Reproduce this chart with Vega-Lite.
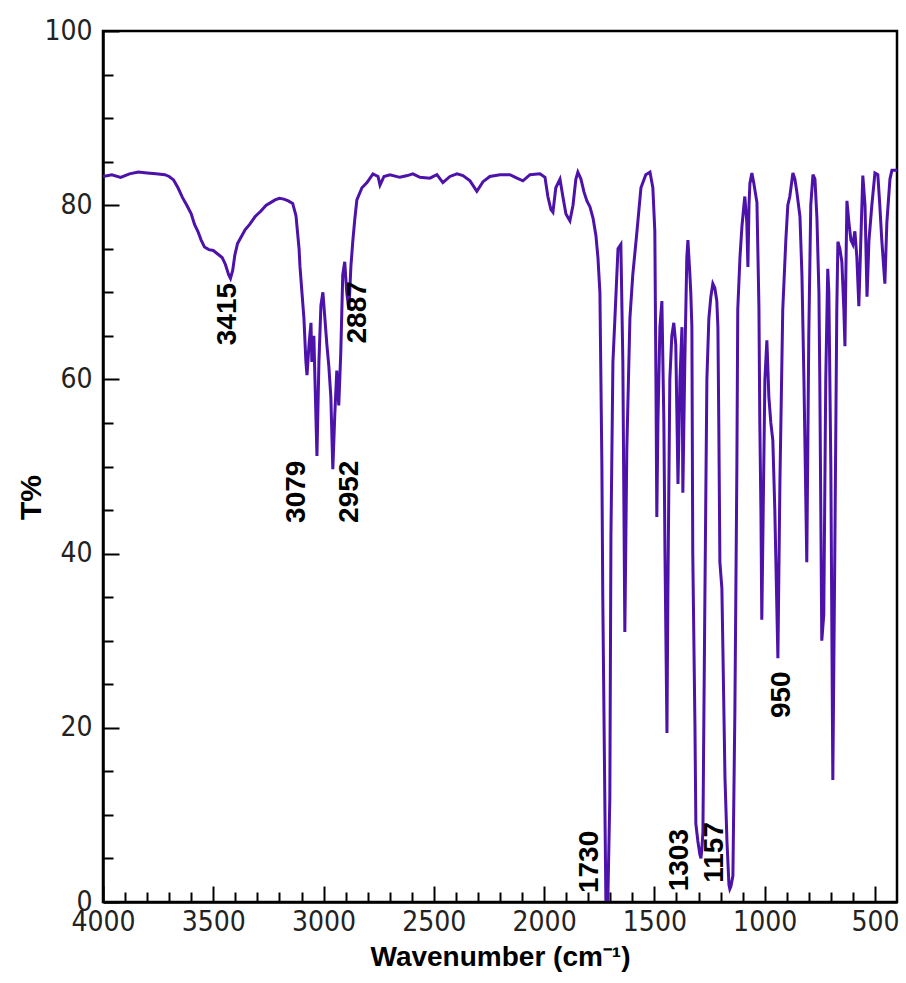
{
  "$schema": "https://vega.github.io/schema/vega-lite/v6.json",
  "width": 794,
  "height": 871,
  "autosize": {"type": "none"},
  "padding": {"left": 103, "top": 31, "right": 9, "bottom": 81},
  "background": "white",
  "config": {
    "view": {"stroke": "black", "strokeWidth": 2.5},
    "axis": {"grid": false, "domainColor": "black", "domainWidth": 2.5, "tickColor": "black", "tickWidth": 2, "zindex": 1}
  },
  "datasets": {
    "spectrum": [
      {"w": 4000, "t": 83.3}, {"w": 3960, "t": 83.5}, {"w": 3920, "t": 83.2}, {"w": 3880, "t": 83.6}, {"w": 3840, "t": 83.8},
      {"w": 3800, "t": 83.7}, {"w": 3760, "t": 83.6}, {"w": 3720, "t": 83.5}, {"w": 3700, "t": 83.3}, {"w": 3680, "t": 82.9},
      {"w": 3660, "t": 82.0}, {"w": 3640, "t": 80.9}, {"w": 3620, "t": 80.0}, {"w": 3600, "t": 79.0}, {"w": 3585, "t": 77.8},
      {"w": 3570, "t": 77.0}, {"w": 3555, "t": 76.0}, {"w": 3540, "t": 75.2}, {"w": 3520, "t": 74.9}, {"w": 3500, "t": 74.8},
      {"w": 3480, "t": 74.4}, {"w": 3460, "t": 74.0}, {"w": 3445, "t": 73.2}, {"w": 3430, "t": 72.0}, {"w": 3422, "t": 71.6},
      {"w": 3412, "t": 72.5}, {"w": 3402, "t": 74.3}, {"w": 3390, "t": 75.6}, {"w": 3375, "t": 76.3}, {"w": 3355, "t": 77.2},
      {"w": 3335, "t": 77.8}, {"w": 3310, "t": 78.7}, {"w": 3285, "t": 79.3}, {"w": 3260, "t": 80.0}, {"w": 3240, "t": 80.3},
      {"w": 3220, "t": 80.6}, {"w": 3200, "t": 80.8}, {"w": 3180, "t": 80.7}, {"w": 3160, "t": 80.5}, {"w": 3140, "t": 80.2},
      {"w": 3125, "t": 78.8}, {"w": 3111, "t": 75.0}, {"w": 3107, "t": 73.0}, {"w": 3098, "t": 70.0}, {"w": 3089, "t": 67.0},
      {"w": 3080, "t": 62.0}, {"w": 3075, "t": 60.5}, {"w": 3066, "t": 64.0}, {"w": 3057, "t": 66.5}, {"w": 3053, "t": 62.0},
      {"w": 3044, "t": 65.0}, {"w": 3039, "t": 60.0}, {"w": 3030, "t": 51.2}, {"w": 3021, "t": 62.0}, {"w": 3012, "t": 68.5},
      {"w": 3003, "t": 70.0}, {"w": 2994, "t": 67.0}, {"w": 2985, "t": 64.0}, {"w": 2976, "t": 61.5}, {"w": 2967, "t": 58.0},
      {"w": 2958, "t": 49.7}, {"w": 2949, "t": 56.0}, {"w": 2940, "t": 61.0}, {"w": 2931, "t": 57.0}, {"w": 2922, "t": 63.0},
      {"w": 2913, "t": 72.0}, {"w": 2904, "t": 73.5}, {"w": 2895, "t": 70.0}, {"w": 2885, "t": 68.0}, {"w": 2876, "t": 73.0},
      {"w": 2867, "t": 76.0}, {"w": 2858, "t": 78.5}, {"w": 2849, "t": 80.6}, {"w": 2826, "t": 82.0}, {"w": 2803, "t": 82.6},
      {"w": 2776, "t": 83.6}, {"w": 2753, "t": 83.3}, {"w": 2744, "t": 82.3}, {"w": 2726, "t": 83.3}, {"w": 2699, "t": 83.5},
      {"w": 2654, "t": 83.2}, {"w": 2620, "t": 83.4}, {"w": 2595, "t": 83.6}, {"w": 2563, "t": 83.2}, {"w": 2518, "t": 83.1},
      {"w": 2486, "t": 83.5}, {"w": 2459, "t": 82.6}, {"w": 2427, "t": 83.3}, {"w": 2395, "t": 83.6}, {"w": 2368, "t": 83.4},
      {"w": 2336, "t": 82.8}, {"w": 2305, "t": 81.6}, {"w": 2277, "t": 82.7}, {"w": 2246, "t": 83.3}, {"w": 2200, "t": 83.5},
      {"w": 2155, "t": 83.5}, {"w": 2123, "t": 83.1}, {"w": 2096, "t": 82.8}, {"w": 2064, "t": 83.5}, {"w": 2019, "t": 83.6},
      {"w": 1996, "t": 83.2}, {"w": 1983, "t": 81.0}, {"w": 1969, "t": 79.5}, {"w": 1960, "t": 79.2}, {"w": 1947, "t": 82.0},
      {"w": 1928, "t": 83.0}, {"w": 1915, "t": 81.0}, {"w": 1901, "t": 79.0}, {"w": 1883, "t": 78.2}, {"w": 1869, "t": 80.0},
      {"w": 1856, "t": 83.0}, {"w": 1847, "t": 83.8}, {"w": 1833, "t": 83.0}, {"w": 1819, "t": 81.5}, {"w": 1806, "t": 80.5},
      {"w": 1792, "t": 79.8}, {"w": 1778, "t": 78.5}, {"w": 1765, "t": 76.5}, {"w": 1756, "t": 74.0}, {"w": 1747, "t": 70.0},
      {"w": 1738, "t": 50.0}, {"w": 1734, "t": 35.0}, {"w": 1724, "t": 10.0}, {"w": 1720, "t": 0.3}, {"w": 1711, "t": 0.3},
      {"w": 1702, "t": 12.0}, {"w": 1697, "t": 42.0}, {"w": 1688, "t": 62.0}, {"w": 1679, "t": 67.0}, {"w": 1665, "t": 75.0},
      {"w": 1652, "t": 75.5}, {"w": 1643, "t": 62.0}, {"w": 1634, "t": 31.0}, {"w": 1625, "t": 52.0}, {"w": 1611, "t": 67.0},
      {"w": 1598, "t": 72.0}, {"w": 1579, "t": 77.0}, {"w": 1561, "t": 82.0}, {"w": 1539, "t": 83.5}, {"w": 1520, "t": 83.8},
      {"w": 1507, "t": 82.0}, {"w": 1498, "t": 77.0}, {"w": 1493, "t": 60.0}, {"w": 1489, "t": 44.2}, {"w": 1484, "t": 55.0},
      {"w": 1475, "t": 66.0}, {"w": 1466, "t": 69.0}, {"w": 1457, "t": 55.0}, {"w": 1452, "t": 40.0}, {"w": 1443, "t": 19.4},
      {"w": 1439, "t": 35.0}, {"w": 1430, "t": 60.0}, {"w": 1421, "t": 65.0}, {"w": 1412, "t": 66.5}, {"w": 1403, "t": 64.0},
      {"w": 1393, "t": 48.0}, {"w": 1384, "t": 60.0}, {"w": 1375, "t": 66.0}, {"w": 1371, "t": 47.0}, {"w": 1362, "t": 62.0},
      {"w": 1353, "t": 74.0}, {"w": 1348, "t": 76.0}, {"w": 1339, "t": 72.0}, {"w": 1335, "t": 70.0}, {"w": 1330, "t": 66.0},
      {"w": 1326, "t": 40.0}, {"w": 1316, "t": 20.0}, {"w": 1312, "t": 9.0}, {"w": 1303, "t": 7.0}, {"w": 1294, "t": 5.5},
      {"w": 1289, "t": 5.0}, {"w": 1285, "t": 6.0}, {"w": 1280, "t": 8.0}, {"w": 1271, "t": 35.0}, {"w": 1262, "t": 60.0},
      {"w": 1253, "t": 67.0}, {"w": 1244, "t": 69.5}, {"w": 1235, "t": 71.0}, {"w": 1226, "t": 70.5}, {"w": 1217, "t": 69.0},
      {"w": 1212, "t": 66.0}, {"w": 1208, "t": 55.0}, {"w": 1203, "t": 39.0}, {"w": 1194, "t": 36.0}, {"w": 1190, "t": 30.0},
      {"w": 1180, "t": 14.3}, {"w": 1171, "t": 7.0}, {"w": 1162, "t": 2.0}, {"w": 1158, "t": 1.5}, {"w": 1153, "t": 1.8},
      {"w": 1144, "t": 3.0}, {"w": 1135, "t": 22.0}, {"w": 1126, "t": 50.0}, {"w": 1122, "t": 68.0}, {"w": 1112, "t": 74.0},
      {"w": 1103, "t": 77.6}, {"w": 1094, "t": 80.0}, {"w": 1090, "t": 81.0}, {"w": 1081, "t": 78.0}, {"w": 1076, "t": 72.9},
      {"w": 1071, "t": 80.0}, {"w": 1067, "t": 82.5}, {"w": 1058, "t": 83.7}, {"w": 1049, "t": 82.5}, {"w": 1035, "t": 80.3},
      {"w": 1026, "t": 68.3}, {"w": 1022, "t": 55.0}, {"w": 1017, "t": 45.0}, {"w": 1013, "t": 32.4}, {"w": 999, "t": 60.0},
      {"w": 990, "t": 64.5}, {"w": 981, "t": 58.0}, {"w": 972, "t": 55.0}, {"w": 963, "t": 53.0}, {"w": 954, "t": 45.0},
      {"w": 940, "t": 28.0}, {"w": 931, "t": 48.0}, {"w": 918, "t": 68.0}, {"w": 904, "t": 76.0}, {"w": 895, "t": 80.0},
      {"w": 886, "t": 81.0}, {"w": 872, "t": 83.7}, {"w": 863, "t": 83.0}, {"w": 854, "t": 81.5}, {"w": 840, "t": 78.7},
      {"w": 831, "t": 72.0}, {"w": 822, "t": 60.0}, {"w": 809, "t": 39.0}, {"w": 800, "t": 65.0}, {"w": 791, "t": 80.0},
      {"w": 781, "t": 83.5}, {"w": 772, "t": 83.0}, {"w": 763, "t": 78.5}, {"w": 754, "t": 70.0}, {"w": 750, "t": 60.0},
      {"w": 741, "t": 30.0}, {"w": 732, "t": 33.0}, {"w": 723, "t": 60.0}, {"w": 714, "t": 72.7}, {"w": 709, "t": 70.0},
      {"w": 700, "t": 50.0}, {"w": 691, "t": 14.0}, {"w": 682, "t": 40.0}, {"w": 673, "t": 68.0}, {"w": 668, "t": 75.8},
      {"w": 659, "t": 75.0}, {"w": 650, "t": 73.5}, {"w": 641, "t": 68.0}, {"w": 636, "t": 63.8}, {"w": 632, "t": 72.0},
      {"w": 627, "t": 80.5}, {"w": 618, "t": 78.0}, {"w": 609, "t": 76.0}, {"w": 600, "t": 75.5}, {"w": 591, "t": 77.0},
      {"w": 582, "t": 74.0}, {"w": 573, "t": 68.4}, {"w": 564, "t": 76.0}, {"w": 555, "t": 83.4}, {"w": 545, "t": 80.0},
      {"w": 536, "t": 69.5}, {"w": 527, "t": 76.0}, {"w": 514, "t": 80.0}, {"w": 500, "t": 83.7}, {"w": 487, "t": 83.5},
      {"w": 478, "t": 80.0}, {"w": 469, "t": 76.0}, {"w": 455, "t": 71.0}, {"w": 446, "t": 78.0}, {"w": 432, "t": 83.0},
      {"w": 423, "t": 84.0}, {"w": 400, "t": 84.0}
    ],
    "peaks": [
      {"w": 3433, "t": 67.5, "label": "3415"},
      {"w": 2844, "t": 67.7, "label": "2887"},
      {"w": 3121, "t": 47.1, "label": "3079"},
      {"w": 2880, "t": 47.1, "label": "2952"},
      {"w": 1792, "t": 4.6, "label": "1730"},
      {"w": 1384, "t": 4.8, "label": "1303"},
      {"w": 1226, "t": 5.7, "label": "1157"},
      {"w": 922, "t": 23.8, "label": "950"}
    ]
  },
  "layer": [
    {
      "data": {"name": "spectrum"},
      "mark": {"type": "line", "color": "#4c12aa", "strokeWidth": 3, "clip": true},
      "encoding": {
        "x": {
          "field": "w", "type": "quantitative",
          "scale": {"domain": [400, 4000], "reverse": true, "nice": false, "zero": false},
          "axis": {
            "orient": "bottom",
            "values": [4000, 3900, 3800, 3700, 3600, 3500, 3400, 3300, 3200, 3100, 3000, 2900, 2800, 2700, 2600, 2500, 2400, 2300, 2200, 2100, 2000, 1900, 1800, 1700, 1600, 1500, 1400, 1300, 1200, 1100, 1000, 900, 800, 700, 600, 500],
            "labelExpr": "datum.value % 500 === 0 ? format(datum.value, 'd') : ''",
            "ticks": true,
            "tickSize": {"condition": {"test": "datum.value % 500 === 0", "value": -16}, "value": -10},
            "labelPadding": 22,
            "labelFont": "'Liberation Sans Narrow', 'DejaVu Sans Condensed', 'Liberation Sans', sans-serif", "labelFontSize": 28, "labelColor": "#222",
            "labelFlush": false, "labelOverlap": false, "labelBound": false, "labelSeparation": 0,
            "title": "Wavenumber (cm⁻¹)", "titleFont": "Liberation Sans", "titleFontWeight": "bold",
            "titleFontSize": 28, "titleColor": "black", "titleY": 55, "titleBaseline": "middle"
          }
        },
        "y": {
          "field": "t", "type": "quantitative",
          "scale": {"domain": [0, 100], "nice": false, "zero": false},
          "axis": {
            "orient": "left",
            "values": [0, 5, 10, 15, 20, 25, 30, 35, 40, 45, 50, 55, 60, 65, 70, 75, 80, 85, 90, 95, 100],
            "labelExpr": "datum.value % 20 === 0 ? format(datum.value, 'd') : ''",
            "ticks": true,
            "tickSize": {"condition": {"test": "datum.value % 20 === 0", "value": -16}, "value": -10},
            "labelPadding": 27,
            "labelFont": "'Liberation Sans Narrow', 'DejaVu Sans Condensed', 'Liberation Sans', sans-serif", "labelFontSize": 28, "labelColor": "#222",
            "labelFlush": false, "labelOverlap": false, "labelBound": false, "labelSeparation": 0,
            "title": "T%", "titleFont": "Liberation Sans", "titleFontWeight": "bold",
            "titleFontSize": 30, "titleColor": "black", "titleX": -72, "titleY": 466, "titleBaseline": "middle", "titleAngle": 270
          }
        }
      }
    },
    {
      "data": {"name": "peaks"},
      "mark": {"type": "text", "angle": 270, "font": "Liberation Sans", "fontWeight": "bold", "fontSize": 28, "align": "center", "baseline": "middle", "color": "black"},
      "encoding": {
        "x": {"field": "w", "type": "quantitative", "axis": null},
        "y": {"field": "t", "type": "quantitative", "axis": null},
        "text": {"field": "label"}
      }
    }
  ],
  "resolve": {"axis": {"x": "independent", "y": "independent"}}
}
